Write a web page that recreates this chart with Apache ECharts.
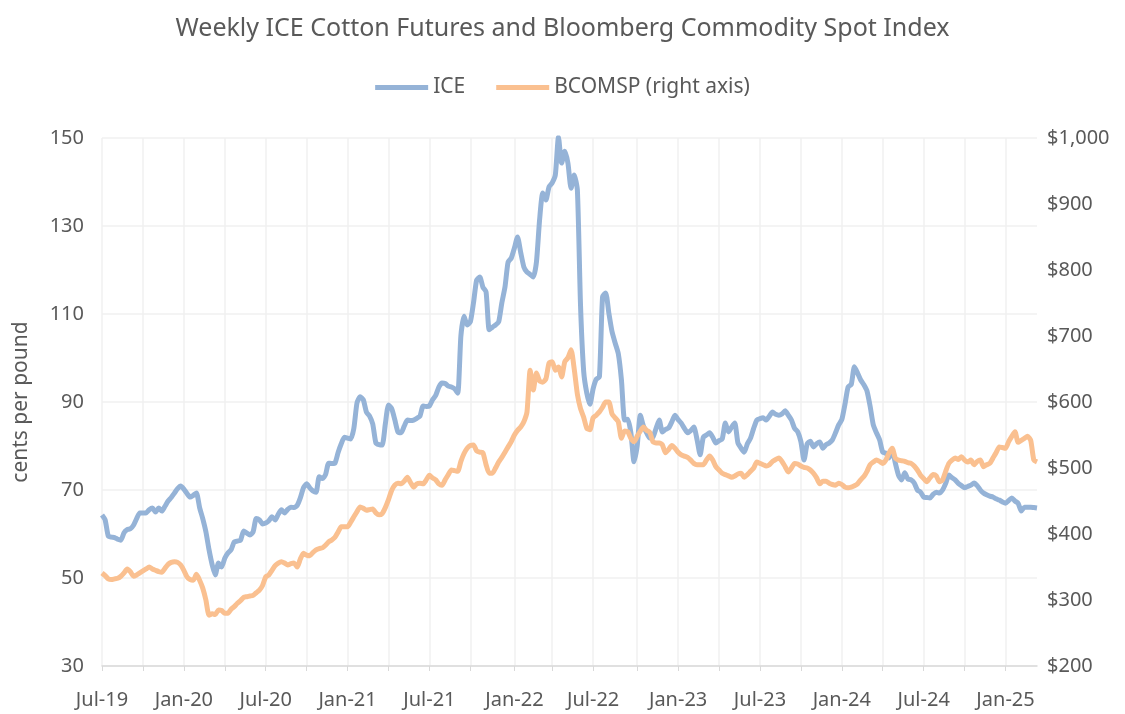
<!DOCTYPE html>
<html>
<head>
<meta charset="utf-8">
<script src="https://cdn.jsdelivr.net/npm/echarts@6/dist/echarts.min.js"></script>
<style>
  html, body { margin: 0; padding: 0; background: #fff; }
  #chart { width: 1125px; height: 714px; }
</style>
</head>
<body>
<div id="chart"></div>
<script>
// weekly closes, first week of Jul-2019 through mid Mar-2025
var firstWeek = '2019-07-05';

var ice = [
  64.3, 63.2, 59.5, 59.3, 59.2, 58.8, 58.6, 60.3, 61, 61.2,
  62, 63.5, 64.8, 64.8, 64.8, 65.5, 65.9, 65, 65.9, 65.2,
  66.3, 67.5, 68.3, 69.3, 70.3, 70.9, 70.2, 69.2, 68.4, 68.8,
  69.3, 66, 63.5, 60.5, 56.4, 53, 50.7, 53.4, 52.5, 54.5,
  55.7, 56.4, 58.2, 58.4, 58.6, 60.7, 60.2, 59.8, 60.5, 63.5,
  63.2, 62.3, 62.5, 63, 63.9, 63.2, 64.5, 65.5, 64.8, 65.6,
  66.1, 66, 66.5, 68.2, 70.5, 71.4, 70.5, 69.8, 69.5, 73,
  72.6, 73.5, 76.1, 76, 76.1, 78.5, 80.5, 82, 81.8, 81.6,
  84, 89.8, 91.2, 90.5, 87.7, 86.8, 85, 80.7, 80.3, 80.2,
  85, 89.3, 88.5, 86, 83.2, 83, 84.5, 85.9, 85.8, 85.9,
  86.3, 86.8, 89.1, 89, 89.1, 90.5, 91.5, 93.4, 94.3, 94.2,
  93.6, 93.4, 93, 92, 105, 109.5, 107.5, 108.2, 112.5, 117.7,
  118.4, 116.1, 115, 106.4, 107, 107.5, 108.2, 112.5, 116.1, 121.8,
  122.7, 125, 127.5, 124, 120.7, 119.5, 119, 118.4, 121.8, 131.4,
  137.5, 135.9, 138.9, 139.8, 141.6, 150.2, 144.3, 147, 144.3, 138.6,
  141.6, 138.2, 112, 97, 92, 89.5, 93, 95.2, 95.7, 113.9,
  114.8, 110.2, 106, 103.4, 101, 95, 85.9, 86.1, 83, 76.4,
  80, 87, 84.5, 83, 81.8, 82, 84, 85.9, 83.2, 83.8,
  84.1, 85.5, 87, 86, 85.2, 84, 83, 83.5, 84.3, 81.5,
  78, 82, 82.5, 83, 82, 80.7, 81.2, 81.6, 85.2, 83.2,
  84.3, 85.2, 80.7, 79.5, 78.6, 80.5, 81.8, 84, 85.9, 86.2,
  86.4, 85.9, 86.8, 87.7, 87.2, 87, 87.3, 88, 87, 85.9,
  84, 83.2, 81, 76.8, 80.5, 81.1, 79.8, 80.5, 80.9, 79.5,
  80.3, 80.7, 81.4, 83, 84.8, 86, 89.5, 93.4, 94, 98,
  96.6, 95, 93.9, 92.5, 89, 84.8, 83, 81.4, 78.6, 78.4,
  77.3, 79, 76.1, 73.4, 72.3, 73.9, 72.5, 72.3, 71.6, 70,
  69.5, 68.4, 68.3, 68.2, 69, 69.5, 69.3, 70, 71.5, 73.4,
  72.8, 72.3, 71.5, 71, 70.5, 70.8, 71.1, 71.6, 71, 70,
  69.3, 68.9, 68.6, 68.4, 68, 67.7, 67.3, 67, 67.6, 68.2,
  67.5, 67, 65.2, 66.1, 66.1, 66.1, 66, 65.9
];

var bcomsp = [
  341, 337, 332, 331, 332, 333, 336, 341, 347, 343,
  336, 338, 341, 344, 347, 350, 347, 345, 343, 342,
  348, 354, 357, 358, 357, 353, 345, 335, 331, 330,
  339, 330, 318, 300, 277, 279, 278, 285, 284, 280,
  280, 286, 290, 295, 299, 304, 305, 306, 307, 311,
  315, 322, 335, 338, 345, 352, 356, 358, 356, 353,
  355, 356, 350, 362, 371, 368, 367, 372, 376, 378,
  379, 383, 388, 391, 395, 403, 411, 411, 411, 418,
  426, 434, 441, 439, 436, 437, 438, 432, 429, 431,
  440, 452, 466, 474, 477, 476, 480, 486, 478, 471,
  476, 477, 476, 482, 489, 485, 482, 476, 474, 482,
  490, 497, 496, 495, 510, 522, 530, 534, 535, 526,
  524, 523, 505, 492, 492, 500, 509, 516, 524, 532,
  540, 550, 557, 562, 570, 585, 648, 618, 644, 632,
  630, 635, 659, 661, 648, 653, 638, 661, 667, 679,
  650, 612, 590, 577, 560, 558, 576, 580, 585, 592,
  600, 600, 582, 576, 570, 545, 556, 555, 545, 540,
  548, 556, 562, 557, 554, 540, 538, 538, 535, 523,
  528, 534, 530, 524, 520, 518, 516, 512, 507, 505,
  505, 505, 512, 518, 512, 502, 497, 492, 490, 488,
  486, 488, 491, 492, 486, 490, 495, 500, 509, 507,
  505, 503, 505, 510, 513, 515, 510, 502, 494, 500,
  507, 506, 503, 501, 500, 497, 492, 485, 476, 480,
  480, 477, 475, 474, 477, 475, 471, 470, 471, 473,
  476, 482, 487, 495, 505, 509, 512, 510, 507, 512,
  523, 530, 515, 512, 511, 510, 508, 507, 503, 497,
  489, 484, 479, 485, 490, 488, 479, 482, 495, 507,
  512, 515, 513, 517, 512, 509, 512, 505, 510, 512,
  502, 505, 507, 515, 523, 532, 531, 530, 540, 548,
  555, 539, 542, 545, 548, 542, 512, 509
];

var leftTicks = { min: 30, max: 150, step: 20 };
var rightTicks = { min: 200, max: 1000, step: 100 };
var monthNames = ['Jan','Feb','Mar','Apr','May','Jun','Jul','Aug','Sep','Oct','Nov','Dec'];

// one category per week
var weeks = [];
var t0 = new Date(firstWeek + 'T00:00:00Z').getTime();
for (var i = 0; i < ice.length; i++) {
  weeks.push(new Date(t0 + i * 7 * 86400000).toISOString().slice(0, 10));
}

function firstWeekOf(val, every) {
  var d = new Date(val + 'T00:00:00Z');
  return d.getUTCDate() <= 7 && d.getUTCMonth() % every === 0;
}

var grey = '#595959';
var chart = echarts.init(document.getElementById('chart'));

var option = {
  animation: false,
  title: {
    text: 'Weekly ICE Cotton Futures and Bloomberg Commodity Spot Index',
    left: 'center',
    top: 11,
    textStyle: { color: grey, fontSize: 25, fontWeight: 'normal', fontFamily: 'Noto Sans' }
  },
  legend: {
    top: 72,
    left: 'center',
    icon: 'rect',
    itemWidth: 53,
    itemHeight: 5,
    itemGap: 31,
    textStyle: { color: grey, fontSize: 21, fontFamily: 'Noto Sans' },
    data: ['ICE', 'BCOMSP (right axis)']
  },
  grid: { left: 102, right: 88, top: 138, bottom: 48 },
  xAxis: {
    type: 'category',
    data: weeks,
    boundaryGap: false,
    axisLine: { lineStyle: { color: '#d9d9d9', width: 1.5 } },
    axisTick: {
      show: true,
      length: 5,
      interval: function (idx, val) { return firstWeekOf(val, 3); },
      lineStyle: { color: '#d9d9d9' }
    },
    splitLine: {
      show: true,
      interval: function (idx, val) { return firstWeekOf(val, 3); },
      lineStyle: { color: '#f0f0f0', width: 1.5 }
    },
    axisLabel: {
      color: grey,
      fontSize: 20,
      fontFamily: 'Noto Sans',
      margin: 24,
      interval: function (idx, val) { return firstWeekOf(val, 6); },
      formatter: function (val) {
        var d = new Date(val + 'T00:00:00Z');
        return monthNames[d.getUTCMonth()] + '-' + String(d.getUTCFullYear()).slice(2);
      }
    }
  },
  yAxis: [
    {
      type: 'value',
      min: leftTicks.min,
      max: leftTicks.max,
      interval: leftTicks.step,
      name: 'cents per pound',
      nameLocation: 'middle',
      nameRotate: 90,
      nameGap: 70,
      nameTextStyle: { color: grey, fontSize: 21, fontFamily: 'Noto Sans' },
      axisLine: { show: false },
      axisTick: { show: false },
      axisLabel: { color: grey, fontSize: 20, fontFamily: 'Noto Sans', margin: 18 },
      splitLine: { lineStyle: { color: '#f0f0f0', width: 1.5 } }
    },
    {
      type: 'value',
      min: rightTicks.min,
      max: rightTicks.max,
      interval: rightTicks.step,
      position: 'right',
      axisLine: { show: false },
      axisTick: { show: false },
      splitLine: { show: false },
      axisLabel: {
        color: grey,
        fontSize: 20,
        fontFamily: 'Noto Sans',
        margin: 10,
        formatter: function (v) { return '$' + v.toLocaleString('en-US'); }
      }
    }
  ],
  series: [
    {
      name: 'ICE',
      type: 'line',
      data: ice,
      yAxisIndex: 0,
      showSymbol: false,
      smooth: 0.2,
      itemStyle: { color: '#95b3d7' },
      lineStyle: { color: '#95b3d7', width: 5 }
    },
    {
      name: 'BCOMSP (right axis)',
      type: 'line',
      data: bcomsp,
      yAxisIndex: 1,
      showSymbol: false,
      smooth: 0.2,
      itemStyle: { color: '#fac090' },
      lineStyle: { color: '#fac090', width: 5 }
    }
  ]
};

chart.setOption(option);
</script>
</body>
</html>
